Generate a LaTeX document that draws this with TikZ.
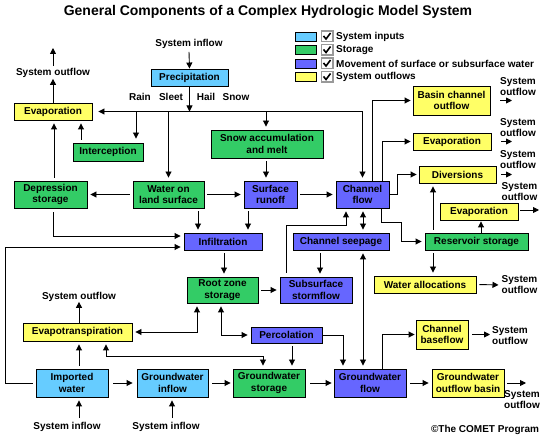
\documentclass[tikz,border=0pt]{standalone}
\usepackage{fontspec}
\setmainfont{Liberation Sans}
\usetikzlibrary{arrows.meta}
\definecolor{cin}{HTML}{66CCFF}
\definecolor{stor}{HTML}{33CC66}
\definecolor{mov}{HTML}{6666FF}
\definecolor{outc}{HTML}{FFFF66}
\definecolor{chkgray}{HTML}{999999}
\newcommand\bx[7]{\node[box,fill=#6,minimum width=#4pt,minimum height=#5pt] (#1) at (#2,#3) {#7};}
\begin{document}
\begin{tikzpicture}[x=1pt,y=-1pt,
  box/.style={draw=black, line width=0.9pt, inner sep=0pt, align=center, font=\bfseries\fontsize{10}{11.5}\selectfont},
  lbl/.style={inner sep=0pt, align=center, font=\bfseries\fontsize{10}{11}\selectfont},
  arr/.style={-{Triangle[length=6pt,width=6pt]}, line width=0.9pt},
  darr/.style={{Triangle[length=6pt,width=6pt]}-{Triangle[length=6pt,width=6pt]}, line width=0.9pt},
  gap/.style={shorten >=3pt, shorten <=3pt}]
\fill[white] (0,0) rectangle (544,438);
\useasboundingbox (0,0) rectangle (544,438);

% title
\node[inner sep=0pt, font=\bfseries\fontsize{14}{16}\selectfont] (title) at (268,12) {General Components of a Complex Hydrologic Model System};

% legend
\foreach \yy/\cc/\tt [count=\i] in {36.5/cin/System inputs, 50/stor/Storage, 63.5/mov/Movement of surface or subsurface water, 77/outc/System outflows}{
  \draw[fill=\cc, line width=0.9pt] (295,\yy-4.5) rectangle (316,\yy+4.5);
  \draw[chkgray, fill=white, line width=1.2pt] (321.5,\yy-5.5) rectangle (333,\yy+5);
  \draw[line width=1.6pt] (323.5,\yy-0.5) -- (326,\yy+2.5) -- (330.5,\yy-3.5);
  \node[lbl, anchor=west] (leg\i) at (336,\yy) {\tt};
}

% boxes
\bx{precip}{189.5}{77.5}{77}{17}{cin}{Precipitation}
\bx{evapL}{53}{111.5}{78}{17}{outc}{Evaporation}
\bx{intc}{108}{152}{70}{18}{stor}{Interception}
\bx{snow}{267}{144}{112}{28}{stor}{Snow accumulation\\and melt}
\bx{depr}{50.5}{194.5}{73}{27}{stor}{Depression\\storage}
\bx{wols}{168.5}{194.5}{71}{27}{stor}{Water on\\land surface}
\bx{surf}{270.5}{194.5}{53}{27}{mov}{Surface\\runoff}
\bx{chan}{362.5}{194.5}{53}{27}{mov}{Channel\\flow}
\bx{basin}{451.5}{100.5}{77}{29}{outc}{Basin channel\\outflow}
\bx{evapR}{452}{141.5}{78}{17}{outc}{Evaporation}
\bx{div}{457.5}{174.5}{77}{17}{outc}{Diversions}
\bx{evapS}{479}{211.5}{78}{17}{outc}{Evaporation}
\bx{resv}{476.5}{241.5}{103}{17}{stor}{Reservoir storage}
\bx{walloc}{425}{284.5}{102}{17}{outc}{Water allocations}
\bx{seep}{341}{241.5}{96}{17}{mov}{Channel seepage}
\bx{infl}{223}{241.5}{78}{17}{mov}{Infiltration}
\bx{root}{222.5}{290}{71}{26}{stor}{Root zone\\storage}
\bx{subs}{316}{290}{72}{26}{mov}{Subsurface\\stormflow}
\bx{perc}{286.5}{335}{71}{16}{mov}{Percolation}
\bx{evtr}{77.5}{332}{109}{18}{outc}{Evapotranspiration}
\bx{impw}{72}{383}{72}{28}{cin}{Imported\\water}
\bx{gwin}{172.5}{383}{71}{28}{cin}{Groundwater\\inflow}
\bx{gwst}{269}{383}{72}{28}{stor}{Groundwater\\storage}
\bx{gwfl}{370}{383}{72}{28}{mov}{Groundwater\\flow}
\bx{cbase}{442}{334.5}{52}{29}{outc}{Channel\\baseflow}
\bx{gwout}{468}{383}{72}{28}{outc}{Groundwater\\outflow basin}

% text labels
\node[lbl] (sinP) at (189,44) {System inflow};
\node[lbl] (soL) at (53,73) {System outflow};
\coordinate (soLtop) at (53,48);
\node[lbl] (rain) at (140,97) {Rain};
\node[lbl] (sleet) at (171,97) {Sleet};
\node[lbl] (hail) at (206,97) {Hail};
\node[lbl] (snowl) at (236,97) {Snow};
\node[lbl] (soB) at (518,86.5) {System\\outflow};
\node[lbl] (soER) at (518,128) {System\\outflow};
\node[lbl] (soD) at (518,159.5) {System\\outflow};
\node[lbl] (soES) at (519.5,191.5) {System\\outflow};
\node[lbl] (soW) at (519.5,285) {System\\outflow};
\node[lbl] (soCB) at (510,335.5) {System\\outflow};
\node[lbl] (soGO) at (522,399.5) {System\\outflow};
\node[lbl] (soE) at (79,297) {System outflow};
\node[lbl] (sinI1) at (67,427) {System inflow};
\node[lbl] (sinI2) at (166,427) {System inflow};
\node[lbl] (copy) at (485,430) {©The COMET Program};

% free ends
\coordinate (aB) at (512,100.5);
\coordinate (aER) at (512,141.5);
\coordinate (aD) at (512,174.5);
\coordinate (aES) at (539,210);
\coordinate (aCB) at (490,334.5);
\coordinate (aGO) at (526,383);

% top distribution
\draw[arr] ([yshift=-3pt]sinP.south) -- (precip.north);
\draw[arr] (precip.south) -- (precip.south |- evapL.east);
\draw[arr, shorten >=6pt] (chan.north |- evapL.east) -- (evapL.east);
\draw[arr, shorten >=3pt] (chan.north |- evapL.east) -- (chan.north);
\draw[arr, shorten >=4pt] (136,0 |- evapL.east) -- (136,0 |- intc.north);
\draw[arr, shorten >=3pt] (wols.north |- evapL.east) -- (wols.north);
\draw[arr, shorten >=3pt] (266,0 |- evapL.east) -- (266,0 |- snow.north);

% left evaporation
\draw[arr] (evapL.north) -- ([yshift=-1pt]soL.south);
\draw[arr] ([yshift=2pt]soL.north) -- (soLtop);
\draw[arr, gap] (81,0 |- intc.north) -- (81,0 |- evapL.south);
\draw[arr, gap] (54,0 |- depr.north) -- (54,0 |- evapL.south);

% middle row
\draw[arr, gap] (wols.west) -- (depr.east);
\draw[arr, gap] (wols.east) -- (surf.west);
\draw[arr, gap] (surf.east) -- (chan.west);
\draw[arr, gap] (266,0 |- snow.south) -- (266,0 |- surf.north);

% channel flow outputs
\draw[arr, shorten >=2pt] (372,0 |- chan.north) |- (basin.west);
\draw[arr, shorten >=2pt] (382,0 |- chan.north) |- (evapR.west);
\draw[arr, shorten >=2pt] (chan.east) -- ++(8,0) |- (div.west);
\draw[arr, shorten >=3pt] (381,0 |- chan.south) -- (381,222) -- (401,222) |- (resv.west);
\draw[arr, gap] (433,0 |- resv.north) -- (433,0 |- div.south);
\draw[arr, shorten >=1pt] (481,0 |- resv.north) -- (481,0 |- evapS.south);
\draw[arr, gap] (433,0 |- resv.south) -- (433,0 |- walloc.north);

% outflow arrows right
\draw[arr] ([xshift=10pt]basin.east) -- (aB);
\draw[arr] ([xshift=10pt]evapR.east) -- (aER);
\draw[arr] ([xshift=5pt]div.east) -- (aD);
\draw[arr] ([xshift=2pt]evapS.east |- aES) -- (aES);
\draw[arr, gap] (walloc.east) -- (soW.west);
\draw[arr] ([xshift=4pt]cbase.east) -- (aCB);
\draw[arr] ([xshift=3pt]gwout.east) -- (aGO);

% channel seepage and subsurface
\draw[darr, gap] (363,0 |- chan.south) -- (363,0 |- seep.north);
\draw[darr, gap] (363,0 |- seep.south) -- (363,0 |- gwfl.north);
\draw[arr, shorten >=3pt, shorten <=4pt] (286,0 |- subs.north) -- (286,225) -- (346,225) -- (346,0 |- chan.south);
\draw[arr, gap] (320,0 |- seep.south) -- (320,0 |- subs.north);

% infiltration
\draw[arr, gap] (198,0 |- wols.south) -- (198,0 |- infl.north);
\draw[arr, gap] (248,0 |- surf.south) -- (248,0 |- infl.north);
\draw[arr, shorten >=3pt, shorten <=4pt] (53,0 |- depr.south) |- (infl.west |- 0,236);
\draw[arr, shorten >=3pt, shorten <=3pt] (impw.west) -- (5,0 |- impw.west) |- (infl.west |- 0,247);
\draw[arr, gap] (224,0 |- infl.south) -- (224,0 |- root.north);

% root zone
\draw[arr, gap] (root.east) -- (subs.west);
\draw[darr, gap] (221,0 |- root.south) |- (perc.west);
\draw[darr, gap] (197,0 |- root.south) |- (evtr.east);
\draw[arr, gap] (292,0 |- perc.south) -- (292,0 |- gwst.north);
\draw[arr, shorten >=3pt] (perc.east) -| (343,0 |- gwfl.north);

% evapotranspiration
\draw[darr, gap] (106,0 |- evtr.south) -- (106,356) -- (263,356) -- (263,0 |- gwst.north);
\draw[arr] (79,0 |- evtr.north) -- (79,0 |- soE.south);
\draw[arr, gap] (79,0 |- impw.north) -- (79,0 |- evtr.south);

% bottom row
\draw[arr, shorten >=3pt, shorten <=4pt] (79,0 |- sinI1.north) -- (79,0 |- impw.south);
\draw[arr, shorten >=3pt, shorten <=4pt] (172,0 |- sinI2.north) -- (172,0 |- gwin.south);
\draw[arr, shorten >=4pt, shorten <=5pt] (impw.east) -- (gwin.west);
\draw[arr, shorten >=2pt, shorten <=4pt] (gwin.east) -- (gwst.west);
\draw[arr, shorten >=2pt, shorten <=5pt] (gwst.east) -- (gwfl.west);
\draw[arr, shorten >=3pt, shorten <=4pt] (gwfl.east) -- (gwout.west);
\draw[arr, shorten >=1pt] (382,0 |- gwfl.north) |- (cbase.west);
\end{tikzpicture}
\end{document}
